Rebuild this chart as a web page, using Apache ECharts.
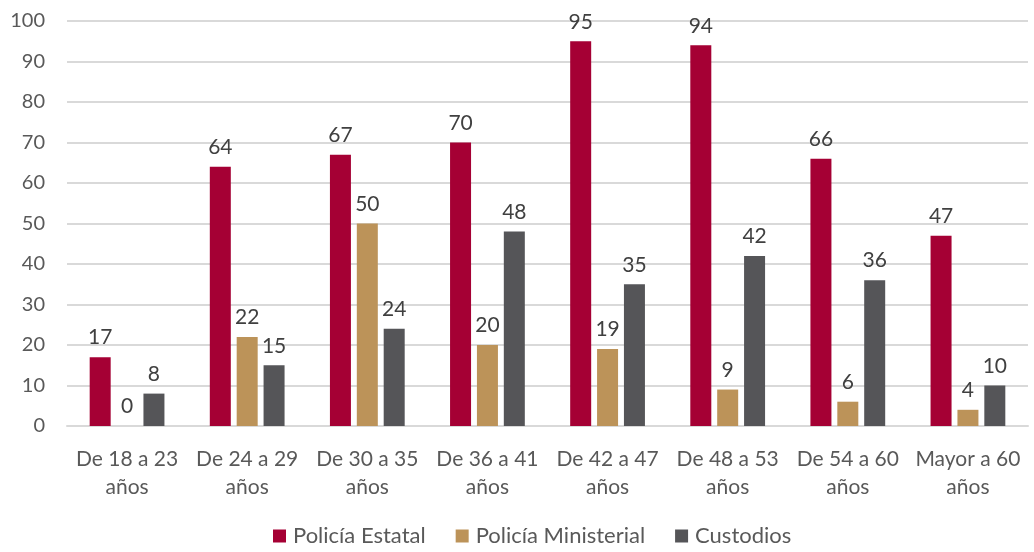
<!DOCTYPE html>
<html>
<head>
<meta charset="utf-8">
<script src="https://cdn.jsdelivr.net/npm/echarts@6/dist/echarts.min.js"></script>
<style>
  html, body { margin: 0; padding: 0; background: #fff; }
  #chart { width: 1034px; height: 552px; }
</style>
</head>
<body>
<div id="chart"></div>
<script>
// categorias (grupos de edad)
const categories = ['De 18 a 23\naños', 'De 24 a 29\naños', 'De 30 a 35\naños', 'De 36 a 41\naños',
  'De 42 a 47\naños', 'De 48 a 53\naños', 'De 54 a 60\naños', 'Mayor a 60\naños']
const policiaEstatal = [17, 64, 67, 70, 95, 94, 66, 47]
const policiaMinisterial = [0, 22, 50, 20, 19, 9, 6, 4]
const custodios = [8, 15, 24, 48, 35, 42, 36, 10]
const yTicks = { min: 0, max: 100, interval: 10 }

const font = 'Lato, "Open Sans", sans-serif'
const labelStyle = { show: true, position: 'top', distance: 9, color: '#404040', fontSize: 21, fontFamily: font }

function makeBar(name, data, color) {
  return {
    name: name,
    type: 'bar',
    data: data,
    barWidth: 21,
    barGap: '28%',
    itemStyle: { color: color },
    label: labelStyle
  }
}

let myChart = echarts.init(document.getElementById('chart'))
myChart.setOption({
  animation: false,
  textStyle: { fontFamily: font },
  grid: { left: 67, right: 6, top: 21, bottom: 126 },
  legend: {
    bottom: 0,
    left: 268,
    itemWidth: 13,
    itemHeight: 13,
    itemGap: 30,
    icon: 'rect',
    textStyle: { color: '#595959', fontSize: 22, fontFamily: font, padding: [0, 0, 0, 2] },
    data: ['Policía Estatal', 'Policía Ministerial', 'Custodios']
  },
  xAxis: {
    type: 'category',
    data: categories,
    axisLine: { lineStyle: { color: '#D9D9D9', width: 2 } },
    axisTick: { show: false },
    axisLabel: { color: '#595959', fontSize: 21, fontFamily: font, lineHeight: 28, margin: 19, interval: 0 }
  },
  yAxis: {
    type: 'value',
    min: yTicks.min,
    max: yTicks.max,
    interval: yTicks.interval,
    axisLine: { show: false },
    axisTick: { show: false },
    splitLine: { lineStyle: { color: '#D9D9D9', width: 2 } },
    axisLabel: { color: '#595959', fontSize: 20, fontFamily: font, margin: 22 }
  },
  series: [
    makeBar('Policía Estatal', policiaEstatal, '#A50034'),
    makeBar('Policía Ministerial', policiaMinisterial, '#BC9359'),
    makeBar('Custodios', custodios, '#555558')
  ]
})
</script>
</body>
</html>
